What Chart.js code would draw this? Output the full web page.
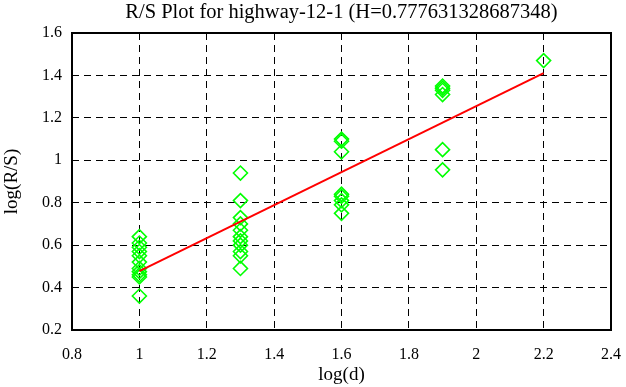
<!DOCTYPE html>
<html>
<head>
<meta charset="utf-8">
<script src="https://cdn.jsdelivr.net/npm/chart.js@4.4.0/dist/chart.umd.min.js"></script>
<style>
    html, body { margin: 0; padding: 0; background: #fff; }
    #wrap { width: 626px; height: 387px; }
</style>
</head>
<body>
<div id="wrap"><canvas id="rsChart" width="626" height="387"></canvas></div>
<script>
// log(d) positions of each block size
const logD = [1, 1.3, 1.6, 1.9, 2.2];

// log(R/S) values, one list per block size
const logRS_d10 = [0.64, 0.61, 0.59, 0.57, 0.55, 0.52, 0.49, 0.475, 0.46, 0.45, 0.36];
const logRS_d20 = [0.94, 0.81, 0.73, 0.70, 0.67, 0.64, 0.62, 0.60, 0.57, 0.55, 0.49];
const logRS_d40 = [1.10, 1.09, 1.04, 0.84, 0.83, 0.81, 0.79, 0.75];
const logRS_d80 = [1.35, 1.34, 1.33, 1.31, 1.05, 0.955];
const logRS_d160 = [1.47];

// fitted line end points (slope = H)
const fitX = [1, 2.2];
const fitY = [0.478, 1.411];

const xTickLabels = ['0.8', '1', '1.2', '1.4', '1.6', '1.8', '2', '2.2', '2.4'];
const yTickLabels = ['0.2', '0.4', '0.6', '0.8', '1', '1.2', '1.4', '1.6'];

const clusters = [logRS_d10, logRS_d20, logRS_d40, logRS_d80, logRS_d160];
const scatterPoints = [];
clusters.forEach((vals, i) => {
    vals.forEach(v => scatterPoints.push({ x: logD[i], y: v }));
});
const fitPoints = fitX.map((x, i) => ({ x: x, y: fitY[i] }));

Chart.defaults.font.family = "'Liberation Serif', 'Times New Roman', serif";
Chart.defaults.color = '#000';

const frame = {
    id: 'frame',
    beforeDatasetsDraw(chart) {
        const { ctx, chartArea: a } = chart;
        ctx.save();
        ctx.strokeStyle = '#000';
        ctx.lineWidth = 2;
        ctx.strokeRect(a.left, a.top, a.right - a.left, a.bottom - a.top);
        ctx.restore();
    }
};

const ctx = document.getElementById('rsChart').getContext('2d');
new Chart(ctx, {
    type: 'scatter',
    data: {
        datasets: [
            {
                label: 'fit',
                data: fitPoints,
                showLine: true,
                borderColor: '#ff0000',
                borderWidth: 2,
                pointRadius: 0,
                fill: false
            },
            {
                label: 'R/S',
                data: scatterPoints,
                pointStyle: 'rectRot',
                pointRadius: 7,
                borderColor: '#00ff00',
                backgroundColor: 'rgba(0,0,0,0)',
                borderWidth: 1.6
            }
        ]
    },
    options: {
        responsive: false,
        animation: false,
        devicePixelRatio: 1,
        layout: { padding: { top: 0, left: 0, bottom: 0, right: 15 } },
        plugins: {
            legend: { display: false },
            tooltip: { enabled: false },
            title: {
                display: true,
                text: 'R/S Plot for highway-12-1 (H=0.777631328687348)',
                fullSize: false,
                color: '#000',
                font: { size: 20.5, weight: 'normal' },
                padding: { top: 0, bottom: 8.4 }
            }
        },
        scales: {
            x: {
                type: 'linear',
                min: 0.8,
                max: 2.4,
                afterFit: (scale) => {
                    scale.height = 57;
                    scale.paddingLeft = 0;
                    scale.paddingRight = 0;
                },
                ticks: {
                    stepSize: 0.2,
                    padding: 15,
                    font: { size: 16 },
                    callback: (v, i) => xTickLabels[i]
                },
                grid: { color: '#000', lineWidth: 1, drawTicks: false },
                border: { display: false, dash: [7, 5] },
                title: {
                    display: true,
                    text: 'log(d)',
                    font: { size: 19 },
                    padding: { top: 0, bottom: 1 }
                }
            },
            y: {
                type: 'linear',
                min: 0.2,
                max: 1.6,
                afterFit: (scale) => { scale.width = 72; },
                ticks: {
                    stepSize: 0.2,
                    padding: 10,
                    font: { size: 16 },
                    callback: (v, i) => yTickLabels[i]
                },
                grid: { color: '#000', lineWidth: 1, drawTicks: false },
                border: { display: false, dash: [7, 5] },
                title: {
                    display: true,
                    text: 'log(R/S)',
                    font: { size: 19 },
                    padding: { top: 1, bottom: 0 }
                }
            }
        }
    },
    plugins: [frame]
});
</script>
</body>
</html>
